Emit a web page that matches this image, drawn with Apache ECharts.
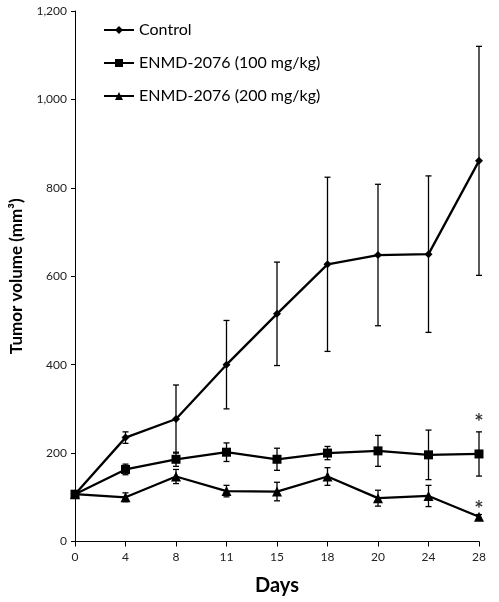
<!DOCTYPE html>
<html>
<head>
<meta charset="utf-8">
<script src="https://cdn.jsdelivr.net/npm/echarts@6/dist/echarts.min.js"></script>
<style>html,body{margin:0;padding:0;background:#fff}#c{width:499px;height:602px}</style>
</head>
<body>
<div id="c"></div>
<script>
var days = ['0','4','8','11','15','18','20','24','28'];
var yTicks = [0,200,400,600,800,1000,1200];
var seriesNames = ['Control','ENMD-2076 (100 mg/kg)','ENMD-2076 (200 mg/kg)'];
var control = [107,235,277,400,515,627,648,650,861];
var controlErr = [8,13,77,100,117,197,160,177,259];
var dose100 = [107,163,186,202,186,200,205,196,198];
var dose100Err = [8,12,16,21,25,15,35,56,50];
var dose200 = [107,100,147,114,113,147,98,103,56];
var dose200Err = [8,10,16,13,21,20,18,24,5];
var starY = [268, 72];

var chart = echarts.init(document.getElementById('c'));
var FONT = 'Lato';

function errData(vals, errs){
  return vals.map(function(v,i){ return [i, v-errs[i], v+errs[i]]; });
}
function errSeries(vals, errs){
  return {
    type:'custom', silent:true, z:1,
    data: errData(vals, errs),
    encode:{x:0, y:[1,2]},
    renderItem:function(params, api){
      var lo = api.coord([api.value(0), api.value(1)]);
      var hi = api.coord([api.value(0), api.value(2)]);
      var w = 3;
      var st = {stroke:'#000', lineWidth:1.3};
      return {type:'group', children:[
        {type:'line', shape:{x1:lo[0],y1:lo[1],x2:hi[0],y2:hi[1]}, style:st},
        {type:'line', shape:{x1:lo[0]-w,y1:lo[1],x2:lo[0]+w,y2:lo[1]}, style:st},
        {type:'line', shape:{x1:hi[0]-w,y1:hi[1],x2:hi[0]+w,y2:hi[1]}, style:st}
      ]};
    }
  };
}
function lineSeries(name, vals, symbol, size){
  return {
    name:name, type:'line', data:vals, symbol:symbol, symbolSize:size, z:3,
    lineStyle:{color:'#000', width:2.3}, itemStyle:{color:'#000'},
    emphasis:{disabled:true}
  };
}

var option = {
  animation:false,
  textStyle:{fontFamily:FONT},
  grid:{left:72, right:20, top:11, bottom:60.5, containLabel:false},
  legend:{
    orient:'vertical', left:98, top:17, itemGap:17, itemWidth:30, itemHeight:10,
    textStyle:{fontFamily:FONT, fontSize:16, color:'#000'},
    data:seriesNames
  },
  xAxis:{
    type:'category', data:days, boundaryGap:false,
    name:'Days', nameLocation:'middle', nameGap:34,
    nameTextStyle:{fontFamily:FONT, fontSize:20, fontWeight:'bold', color:'#000'},
    axisLine:{lineStyle:{color:'#000', width:1}},
    axisTick:{show:true, alignWithLabel:true, length:5, lineStyle:{color:'#000'}},
    axisLabel:{fontFamily:FONT, fontSize:12, color:'#222', margin:10},
    splitLine:{show:false}
  },
  yAxis:{
    type:'value', min:yTicks[0], max:yTicks[yTicks.length-1], interval:200,
    name:'Tumor volume (mm³)', nameLocation:'middle', nameGap:50,
    nameTextStyle:{fontFamily:FONT, fontSize:17, fontWeight:'bold', color:'#000'},
    axisLine:{show:true, lineStyle:{color:'#000', width:1}},
    axisTick:{show:true, length:4, lineStyle:{color:'#000'}},
    axisLabel:{fontFamily:FONT, fontSize:12, color:'#222', margin:8,
      formatter:function(v){ return v.toLocaleString('en-US'); }},
    splitLine:{show:false}
  },
  series:[
    errSeries(control, controlErr),
    errSeries(dose100, dose100Err),
    errSeries(dose200, dose200Err),
    lineSeries(seriesNames[0], control, 'diamond', 8),
    lineSeries(seriesNames[1], dose100, 'rect', 9),
    lineSeries(seriesNames[2], dose200, 'triangle', 10),
    {
      type:'scatter', symbol:'circle', symbolSize:1, silent:true, z:4,
      itemStyle:{color:'rgba(0,0,0,0)'},
      data: starY.map(function(y){ return [days.length-1, y]; }),
      label:{show:true, formatter:'*', position:'inside', fontFamily:FONT, fontSize:22, fontWeight:'bold', color:'#000'}
    }
  ]
};
chart.setOption(option);
</script>
</body>
</html>
